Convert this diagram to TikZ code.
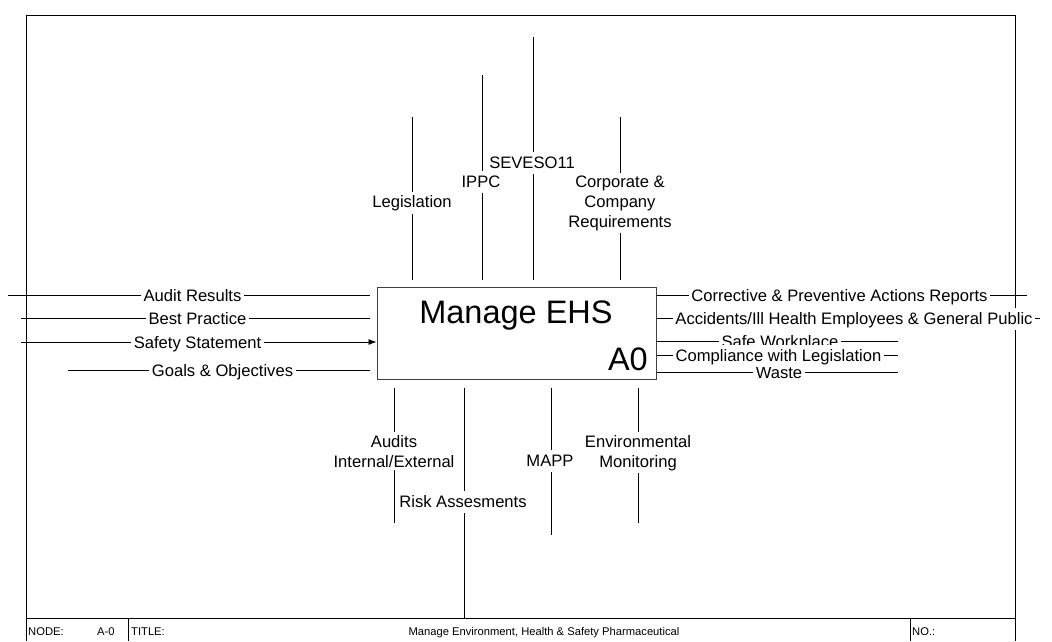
\documentclass[tikz,border=0pt]{standalone}
\usepackage{fontspec}
\setmainfont{Liberation Sans}
\usetikzlibrary{arrows.meta}
\begin{document}
\begin{tikzpicture}[x=1pt,y=-1pt,
  conn/.style={line width=0.8pt, black},
  frameline/.style={line width=0.8pt, black},
  lbl/.style={fill=white, inner sep=2.5pt, font=\fontsize{16.6}{20}\selectfont, text height=13.5pt, text depth=3.5pt, anchor=base},
  mlbl/.style={fill=white, inner sep=2.5pt, font=\fontsize{16.6}{20}\selectfont, align=center, anchor=base},
  tb/.style={font=\fontsize{11.2}{13}\selectfont, inner sep=0pt, anchor=base west},
  actbox/.style={draw=black!75, line width=1pt, minimum width=279pt, minimum height=92pt, inner sep=0pt},
  bigtxt/.style={font=\fontsize{32.5}{36}\selectfont, inner sep=0pt},
]
\useasboundingbox (0,0) rectangle (1052,641);
% frame
\coordinate (fTL) at (26,15);
\coordinate (fTR) at (1015,15);
\coordinate (fBL) at (26,641);
\coordinate (fBR) at (1015,641);
\draw[frameline] (fBL) -- (fTL) -- (fTR) -- (fBR);
\coordinate (tbL) at (26,618);
\coordinate (tbR) at (1015,618);
\draw[frameline] (tbL) -- (tbR);
\coordinate (s1t) at (128,618);
\coordinate (s1b) at (128,641);
\coordinate (s2t) at (910,618);
\coordinate (s2b) at (910,641);
\draw[frameline] (s1t) -- (s1b);
\draw[frameline] (s2t) -- (s2b);
\node[tb] (tNode) at (28,635) {NODE:};
\node[tb] (tA0) at (97,635) {A-0};
\node[tb] (tTitle) at (131,635) {TITLE:};
\node[tb, anchor=base] (tName) at (544,635) {Manage Environment, Health \& Safety Pharmaceutical};
\node[tb] (tNo) at (912,635) {NO.:};

% activity box
\node[actbox] (box) at (516.5,333) {};
\node[bigtxt, anchor=base] (boxname) at (516,323) {Manage EHS};
\node[bigtxt, anchor=base east] (boxid) at (648,370) {A0};

% inputs
\coordinate (iAR) at (8,295);
\coordinate (iBP) at (21,318);
\coordinate (iSS) at (21,342);
\coordinate (iGO) at (68,370);
\draw[conn, shorten >=7pt] (iAR) -- (iAR -| box.west);
\draw[conn, shorten >=7pt] (iBP) -- (iBP -| box.west);
\draw[conn, -{Latex[length=8pt,width=6pt]}] (iSS) -- (iSS -| box.west);
\draw[conn, shorten >=7pt] (iGO) -- (iGO -| box.west);
\node[lbl] (lAR) at (192.5,301) {Audit Results};
\node[lbl] (lBP) at (197.5,324) {Best Practice};
\node[lbl] (lSS) at (197.5,348) {Safety Statement};
\node[lbl] (lGO) at (222.5,376) {Goals \& Objectives};

% outputs
\coordinate (oCP) at (1027,295);
\coordinate (oAI) at (1040,318);
\coordinate (oSW) at (898,341);
\coordinate (oCL) at (898,355);
\coordinate (oWA) at (898,372);
\draw[conn] (oCP -| box.east) -- (oCP);
\draw[conn] (oAI -| box.east) -- (oAI);
\draw[conn] (oSW -| box.east) -- (oSW);
\draw[conn] (oCL -| box.east) -- (oCL);
\draw[conn] (oWA -| box.east) -- (oWA);
\node[lbl] (lCP) at (839.5,301) {Corrective \& Preventive Actions Reports};
\node[lbl] (lAI) at (854,324) {Accidents/Ill Health Employees \& General Public};
\node[lbl] (lSW) at (780,347) {Safe Workplace};
\node[lbl] (lWA) at (779,378) {Waste};
\node[lbl] (lCL) at (778.5,361) {Compliance with Legislation};

% controls
\coordinate (cLE) at (412,117);
\coordinate (cIP) at (482,75);
\coordinate (cSE) at (533,37);
\coordinate (cCO) at (620,117);
\draw[conn, shorten >=7pt] (cLE) -- (cLE |- box.north);
\draw[conn, shorten >=7pt] (cIP) -- (cIP |- box.north);
\draw[conn, shorten >=7pt] (cSE) -- (cSE |- box.north);
\draw[conn, shorten >=7pt] (cCO) -- (cCO |- box.north);
\node[lbl] (lLE) at (412,207.5) {Legislation};
\node[lbl] (lIP) at (481,187) {IPPC};
\node[lbl] (lSE) at (532,168) {SEVESO11};
\node[mlbl] (lCO) at (620,227) {Corporate \&\\Company\\Requirements};

% mechanisms
\coordinate (mAU) at (394,523);
\coordinate (mRA) at (464,618);
\coordinate (mMA) at (551,535);
\coordinate (mEM) at (638,523);
\draw[conn, shorten <=8pt] (mAU |- box.south) -- (mAU);
\draw[conn, shorten <=8pt] (mRA |- box.south) -- (mRA);
\draw[conn, shorten <=8pt] (mMA |- box.south) -- (mMA);
\draw[conn, shorten <=8pt] (mEM |- box.south) -- (mEM);
\node[mlbl] (lAU) at (394,467) {Audits\\Internal/External};
\node[lbl] (lRA) at (463,507) {Risk Assesments};
\node[lbl] (lMA) at (550,466) {MAPP};
\node[mlbl] (lEM) at (638,467) {Environmental\\Monitoring};
\end{tikzpicture}
\end{document}
